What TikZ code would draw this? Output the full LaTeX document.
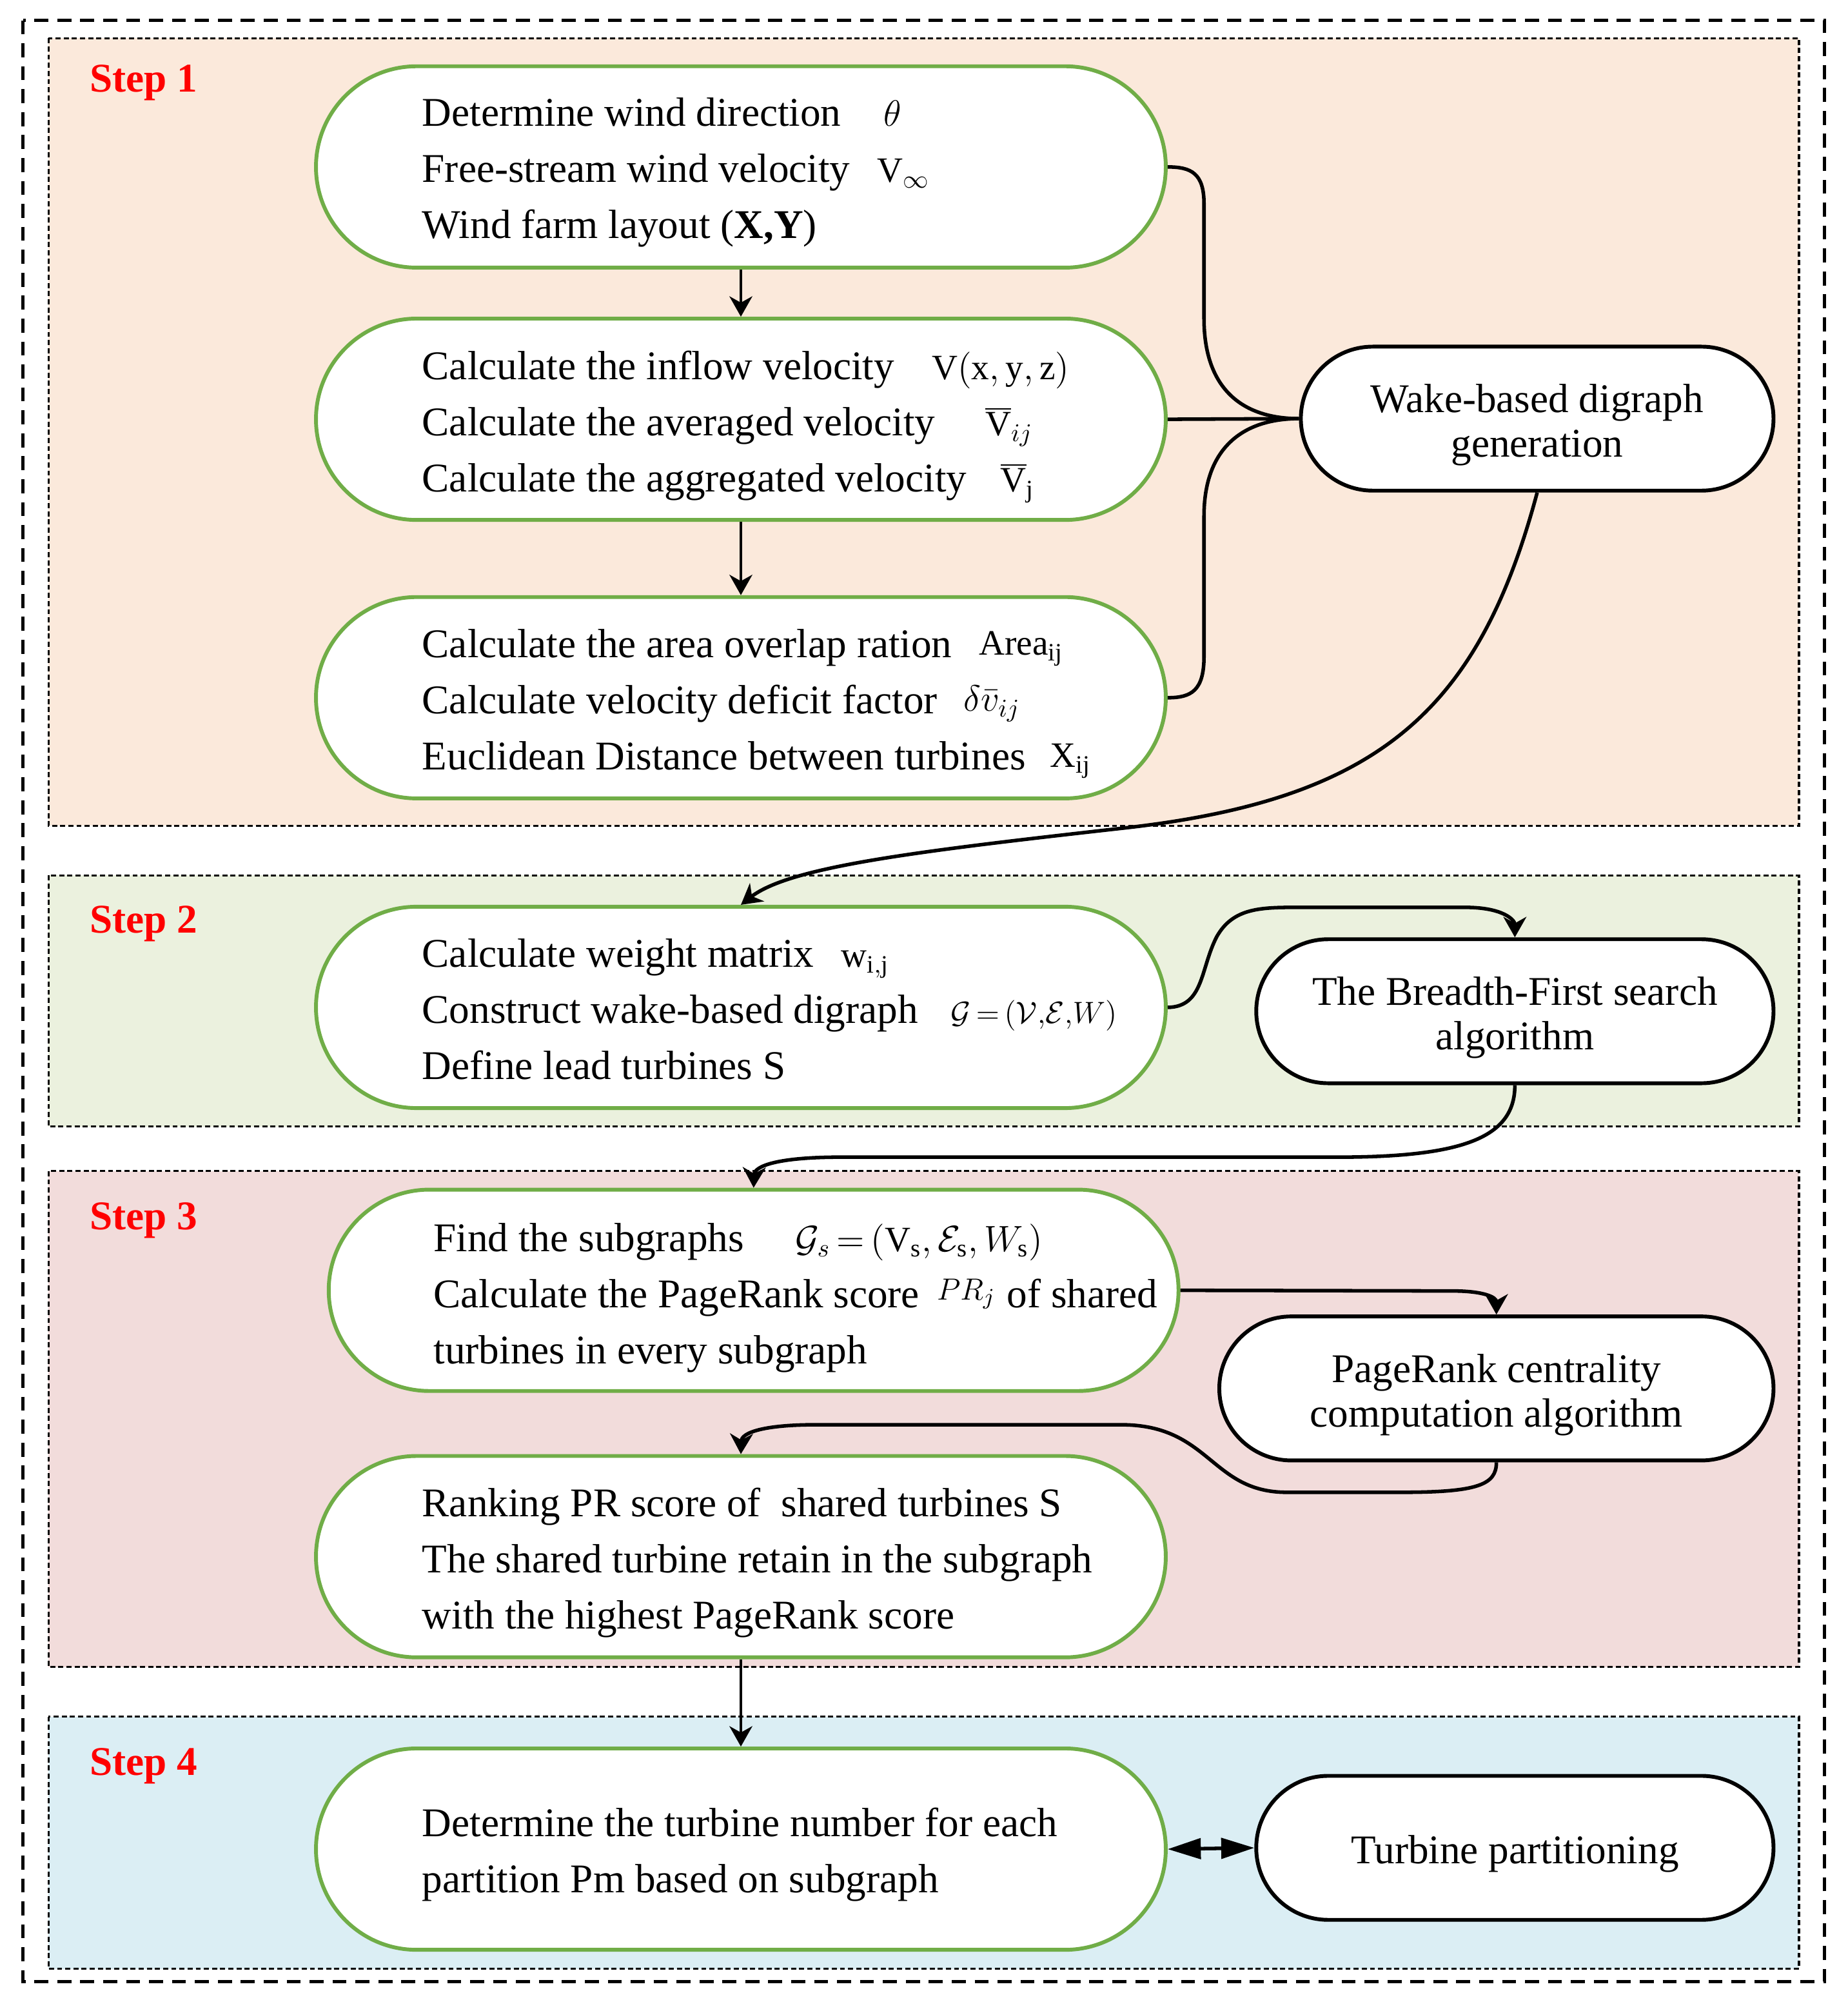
\documentclass[tikz,border=0pt]{standalone}
\usepackage{fontspec}
\setmainfont{Liberation Serif}
\usetikzlibrary{shapes.misc,arrows.meta}
\definecolor{pA}{HTML}{FBE9DB}
\definecolor{pB}{HTML}{EBF1DE}
\definecolor{pC}{HTML}{F2DCDB}
\definecolor{pD}{HTML}{DBEEF4}
\definecolor{gr}{HTML}{70AD47}
\newcommand{\upstrut}{\rule{0pt}{16pt}}
\begin{document}
\begin{tikzpicture}[x=0.5pt,y=-0.5pt,
  panel/.style={draw=black, line width=0.8pt, dash pattern=on 2pt off 1.2pt},
  gbox/.style={rounded rectangle, draw=gr, line width=1.5pt, fill=white, minimum width=333.5pt, minimum height=79pt, inner sep=0pt},
  kbox/.style={rounded rectangle, draw=black, line width=1.5pt, fill=white, minimum height=56.5pt, inner sep=0pt, align=center, font=\fontsize{16}{17.5}\selectfont},
  txt/.style={anchor=base west, inner sep=0pt, font=\fontsize{16}{22}\selectfont},
  sym/.style={anchor=base west, inner sep=0pt, font=\fontsize{14}{16}\selectfont},
  steplbl/.style={anchor=base west, inner sep=0pt, text=red, font=\fontsize{16}{18}\selectfont\bfseries},
  conn/.style={line width=1.4pt, -{Stealth[length=8pt,width=9pt,inset=2.5pt]}},
  vconn/.style={line width=1pt, -{Stealth[length=8pt,width=9pt,inset=2.5pt]}},
  link/.style={line width=1.4pt},
  dbl/.style={line width=1.4pt, {Triangle[length=13pt,width=8pt]}-{Triangle[length=13pt,width=8pt]}}
]
\useasboundingbox (0,0) rectangle (1450,1569.4);
\fill[white] (0,0) rectangle (1450,1569.4);
% outer frame
\draw[line width=1.1pt, dash pattern=on 5.5pt off 3.5pt] (18,16) rectangle (1432,1555);
% panels
\draw[panel, fill=pA] (38,30) rectangle (1412,648);
\draw[panel, fill=pB] (38,687) rectangle (1412,884);
\draw[panel, fill=pC] (38,919) rectangle (1412,1308);
\draw[panel, fill=pD] (38,1347) rectangle (1412,1545);
% step labels
\node[steplbl] (st1) at (70,72) {Step 1};
\node[steplbl] (st2) at (70,732) {Step 2};
\node[steplbl] (st3) at (70,965) {Step 3};
\node[steplbl] (st4) at (70,1393) {Step 4};
% green boxes
\node[gbox] (b1) at (581.5,131) {};
\node[gbox] (b2) at (581.5,329) {};
\node[gbox] (b3) at (581.5,547.5) {};
\node[gbox] (s2) at (581.5,790.5) {};
\node[gbox] (s3a) at (591.5,1012.5) {};
\node[gbox] (s3b) at (581.5,1221.5) {};
\node[gbox] (s4) at (581.5,1451) {};
% black boxes
\node[kbox, minimum width=185.5pt] (wake) at (1206.5,328.5) {\upstrut Wake-based digraph\\generation};
\node[kbox, minimum width=203pt] (bfs) at (1189,793.5) {\upstrut The Breadth-First search\\algorithm};
\node[kbox, minimum width=217.5pt] (pr) at (1174.5,1089.5) {\upstrut PageRank centrality\\computation algorithm};
\node[kbox, minimum width=203pt] (turb) at (1189,1450) {\upstrut Turbine partitioning};
% box 1 text
\node[txt] (t11) at (331,99) {Determine wind direction};
\node[sym] (m11) at (693,99) {$\theta$};
\node[txt] (t12) at (331,143) {Free-stream wind velocity};
\node[sym] (m12) at (688,143) {$\mathrm{V}_\infty$};
\node[txt] (t13) at (331,187) {Wind farm layout (\textbf{X,Y})};
% box 2 text
\node[txt] (t21) at (331,298) {Calculate the inflow velocity};
\node[sym] (m21) at (731,298) {$\mathrm{V(x,y,z)}$};
\node[txt] (t22) at (331,342) {Calculate the averaged velocity};
\node[sym] (m22) at (773,342) {$\overline{\mathrm{V}}_{ij}$};
\node[txt] (t23) at (331,386) {Calculate the aggregated velocity};
\node[sym] (m23) at (785,386) {$\overline{\mathrm{V}}_{\mathrm{j}}$};
% box 3 text
\node[txt] (t31) at (331,516) {Calculate the area overlap ration};
\node[sym] (m31) at (768,514) {$\mathrm{Area}_{\mathrm{ij}}$};
\node[txt] (t32) at (331,560) {Calculate velocity deficit factor};
\node[sym] (m32) at (756,558) {$\delta\bar{v}_{ij}$};
\node[txt] (t33) at (331,604) {Euclidean Distance between turbines};
\node[sym] (m33) at (824,602) {$\mathrm{X}_{\mathrm{ij}}$};
% step 2 text
\node[txt] (t41) at (331,759) {Calculate weight matrix};
\node[sym] (m41) at (660,759) {$\mathrm{w}_{\mathrm{i,j}}$};
\node[txt] (t42) at (331,803) {Construct wake-based digraph};
\node[sym, font=\fontsize{13}{15}\selectfont] (m42) at (746,803) {$\mathcal{G}\,{=}\,(\mathcal{V}{,}\mathcal{E}{,}W)$};
\node[txt] (t43) at (331,847) {Define lead turbines S};
% step 3 box A
\node[txt] (t51) at (340,982) {Find the subgraphs};
\node[sym] (m51) at (624,982) {$\mathcal{G}_s\,{=}\,(\mathrm{V}_\mathrm{s}{,}\,\mathcal{E}_\mathrm{s}{,}\,W_\mathrm{s})$};
\node[txt] (t52) at (340,1026) {Calculate the PageRank score};
\node[sym, font=\fontsize{13}{15}\selectfont] (m52) at (735,1020) {$PR_j$};
\node[txt] (t52b) at (790,1026) {of shared};
\node[txt] (t53) at (340,1070) {turbines in every subgraph};
% step 3 box B
\node[txt] (t61) at (331,1190) {Ranking PR score of\ \ shared turbines S};
\node[txt] (t62) at (331,1234) {The shared turbine retain in the subgraph};
\node[txt] (t63) at (331,1278) {with the highest PageRank score};
% step 4 text
\node[txt] (t71) at (331,1441) {Determine the turbine number for each};
\node[txt] (t72) at (331,1485) {partition Pm based on subgraph};
% connectors
\draw[vconn] (b1.south) -- (b2.north);
\draw[vconn] (b2.south) -- (b3.north);
\draw[link] (b1.east) .. controls (935,131) and (945,136) .. (945,160) -- (945,250) .. controls (945,305) and (975,328.5) .. (wake.west);
\draw[link] (b2.east) -- (wake.west);
\draw[link] (b3.east) .. controls (935,547.5) and (945,542) .. (945,515) -- (945,405) .. controls (945,352) and (975,328.5) .. (wake.west);
\draw[conn] (wake.south) .. controls (1160,560) and (1080,628) .. (880,650) .. controls (720,668) and (620,680) .. (s2.north);
\draw[conn] (s2.east) .. controls (945,790) and (942,760) .. (955,735) .. controls (968,712) and (990,712) .. (1020,712) -- (1150,712) .. controls (1180,712) and (1189,722) .. (bfs.north);
\draw[conn] (bfs.south) .. controls (1189,892) and (1150,908) .. (1050,908) -- (660,908) .. controls (610,908) and (592,915) .. (s3a.north);
\draw[conn] (s3a.east) -- (1140,1013) .. controls (1165,1013) and (1174.5,1018) .. (pr.north);
\draw[conn] (pr.south) .. controls (1174.5,1165) and (1160,1171) .. (1100,1171) -- (1010,1171) .. controls (950,1171) and (950,1118) .. (880,1118) -- (640,1118) .. controls (600,1118) and (582,1124) .. (s3b.north);
\draw[vconn] (s3b.south) -- (s4.north);
\draw[dbl] (s4.east) -- (turb.west);
\end{tikzpicture}
\end{document}
